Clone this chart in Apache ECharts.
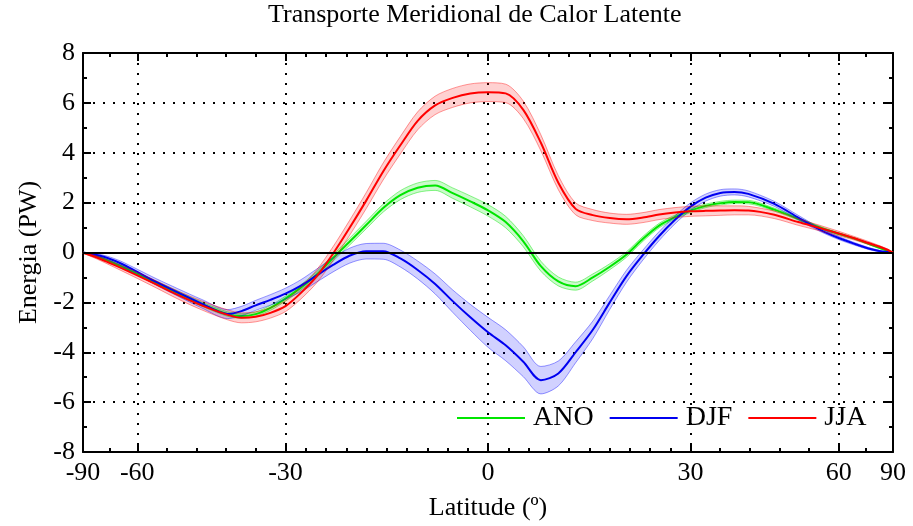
<!DOCTYPE html>
<html>
<head>
<meta charset="utf-8">
<script src="https://cdn.jsdelivr.net/npm/echarts@6/dist/echarts.min.js"></script>
<style>
  html, body { margin: 0; padding: 0; background: #fff; }
  #chart { width: 913px; height: 526px; }
</style>
</head>
<body>
<div id="chart"></div>
<script>
// Latitude grid (degrees) shared by all three transports
const latitudes = [
  -90, -85, -80, -75, -70, -65, -60, -55, -50, -45, -40,
  -37.5, -35, -32.5, -30, -27.5, -25, -22.5, -20, -17.5, -15, -12.5, -10, -7.5, -5, -2.5,
  0, 2.5, 5, 7.5, 10, 12.5, 15, 17.5, 20, 22.5, 25, 27.5, 30, 32.5, 35, 37.5,
  40, 45, 50, 55, 60, 65, 70, 75, 80, 85, 90
];

// Annual mean (PW) and its spread
const ano = [
  0, -0.02, -0.07, -0.16, -0.32, -0.55, -0.86, -1.22, -1.63, -2.07, -2.47,
  -2.55, -2.47, -2.22, -1.85, -1.4, -0.88, -0.22, 0.43, 1.1, 1.78, 2.3, 2.6, 2.69, 2.38, 2.05,
  1.69, 1.22, 0.45, -0.55, -1.16, -1.35, -1.0, -0.57, -0.08, 0.55, 1.08, 1.42, 1.68, 1.87, 1.98, 2.03,
  2.02, 1.72, 1.35, 1.0, 0.75, 0.55, 0.35, 0.19, 0.08, 0.02, 0
];
const anoErr = [
  0, 0.01, 0.02, 0.03, 0.04, 0.05, 0.06, 0.07, 0.08, 0.08, 0.09,
  0.09, 0.09, 0.1, 0.1, 0.11, 0.12, 0.13, 0.14, 0.15, 0.16, 0.18, 0.19, 0.2, 0.21, 0.22,
  0.23, 0.23, 0.22, 0.2, 0.18, 0.16, 0.14, 0.12, 0.11, 0.1, 0.09, 0.08, 0.08, 0.07, 0.07, 0.07,
  0.07, 0.06, 0.05, 0.05, 0.04, 0.03, 0.03, 0.02, 0.01, 0.01, 0
];

// December-January-February (PW) and its spread
const djf = [
  0, -0.01, -0.04, -0.1, -0.22, -0.44, -0.78, -1.18, -1.6, -2.05, -2.47,
  -2.35, -2.12, -1.9, -1.65, -1.33, -0.92, -0.5, -0.13, 0.05, 0.05, -0.24, -0.7, -1.26, -1.95, -2.6,
  -3.2, -3.72, -4.38, -5.12, -4.85, -4.0, -3.1, -2.0, -0.95, -0.1, 0.66, 1.31, 1.84, 2.2, 2.39, 2.43,
  2.35, 1.95, 1.4, 0.92, 0.58, 0.34, 0.16, 0.06, 0.02, 0.005, 0
];
const djfErr = [
  0, 0.01, 0.03, 0.05, 0.07, 0.09, 0.11, 0.13, 0.15, 0.17, 0.18,
  0.19, 0.2, 0.21, 0.22, 0.24, 0.26, 0.28, 0.3, 0.31, 0.32, 0.34, 0.36, 0.4, 0.45, 0.52,
  0.6, 0.62, 0.6, 0.55, 0.5, 0.42, 0.35, 0.28, 0.24, 0.2, 0.18, 0.16, 0.15, 0.14, 0.13, 0.12,
  0.12, 0.1, 0.09, 0.07, 0.06, 0.05, 0.04, 0.03, 0.02, 0.01, 0
];

// June-July-August (PW) and its spread
const jja = [
  0, -0.03, -0.09, -0.2, -0.38, -0.62, -0.92, -1.28, -1.7, -2.12, -2.5,
  -2.62, -2.58, -2.42, -2.15, -1.62, -0.95, -0.05, 0.98, 2.08, 3.25, 4.3, 5.28, 5.9, 6.2, 6.38,
  6.43, 6.38, 5.72, 4.4, 2.8, 1.75, 1.5, 1.38, 1.33, 1.4, 1.52, 1.6, 1.65, 1.67, 1.68, 1.69,
  1.68, 1.51, 1.22, 0.98, 0.76, 0.56, 0.38, 0.24, 0.12, 0.03, 0
];
const jjaErr = [
  0, 0.02, 0.04, 0.06, 0.08, 0.1, 0.12, 0.14, 0.16, 0.18, 0.2,
  0.2, 0.2, 0.21, 0.22, 0.24, 0.26, 0.28, 0.3, 0.32, 0.34, 0.35, 0.36, 0.37, 0.38, 0.38,
  0.38, 0.37, 0.35, 0.32, 0.28, 0.24, 0.22, 0.2, 0.2, 0.2, 0.2, 0.2, 0.2, 0.2, 0.19, 0.18,
  0.17, 0.15, 0.13, 0.11, 0.09, 0.07, 0.06, 0.04, 0.03, 0.01, 0
];

// Axis ticks
const xTickLats = [-90, -60, -30, 0, 30, 60, 90];
const yMin = -8, yMax = 8, yStep = 2;

const FONT = '"Liberation Serif", "Times New Roman", serif';

// The latitude axis is area-weighted: positions follow sin(latitude)
const toSin = lat => Math.sin(lat * Math.PI / 180);
const majorX = xTickLats.map(toSin);
const minorDivs = [2, 5, 10, 10, 5, 2];
const minorX = [];
for (let i = 0; i < majorX.length - 1; i++) {
  const step = (majorX[i + 1] - majorX[i]) / minorDivs[i];
  for (let k = 1; k < minorDivs[i]; k++) minorX.push(majorX[i] + k * step);
}
const latLabel = v => {
  const i = majorX.findIndex(s => Math.abs(s - v) < 1e-9);
  return i >= 0 ? String(xTickLats[i]) : '';
};

const black = '#000';
const boxLine = { show: true, onZero: false, lineStyle: { color: black, width: 2 } };
const dotted = { show: true, lineStyle: { color: black, width: 2, type: [2, 8] } };
const majorTick = (vals) => ({ show: true, inside: true, length: 8, customValues: vals, lineStyle: { color: black, width: 2 } });
const minorTickAxis = (pos) => ({
  type: 'value', min: -1, max: 1, position: pos,
  axisLine: { show: false, onZero: false },
  axisTick: { show: true, inside: true, length: 4, customValues: minorX, lineStyle: { color: black, width: 2 } },
  axisLabel: { show: false }, splitLine: { show: false }
});

// Rows are [value, sin(lat)] so the value column is the one that stacks
const rows = vals => latitudes.map((la, i) => [vals[i], toSin(la)]);
const enc = { x: 1, y: 0 };

function bandSeries(key, vals, errs, fill, edge, withZeroLine) {
  const lower = rows(vals.map((v, i) => v - errs[i]));
  const width = rows(errs.map(e => 2 * e));
  const low = {
    type: 'line', name: key + '-lo', stack: key, stackStrategy: 'all', data: lower, encode: enc,
    symbol: 'none', smooth: 0.3, silent: true,
    lineStyle: { color: edge, width: 1 }
  };
  if (withZeroLine) {
    low.markLine = {
      silent: true, symbol: 'none', label: { show: false },
      lineStyle: { color: black, width: 2, type: 'solid' },
      data: [{ yAxis: 0 }]
    };
  }
  return [low, {
    type: 'line', name: key + '-hi', stack: key, stackStrategy: 'all', data: width, encode: enc,
    symbol: 'none', smooth: 0.3, silent: true,
    lineStyle: { color: edge, width: 1 },
    areaStyle: { color: fill, opacity: 1 }
  }];
}

function mainSeries(name, vals, color) {
  return {
    type: 'line', name: name, data: rows(vals), encode: enc, symbol: 'none', smooth: 0.3,
    lineStyle: { color: color, width: 2 }, itemStyle: { color: color }
  };
}

const cGreen = '#00e600', cBlue = '#0000f0', cRed = '#ff0000';

const chart = echarts.init(document.getElementById('chart'), null, { renderer: 'canvas' });
chart.setOption({
  animation: false,
  backgroundColor: '#fff',
  textStyle: { fontFamily: FONT, color: black },
  title: {
    text: 'Transporte Meridional de Calor Latente',
    left: 268, top: 2, padding: 0,
    textStyle: { fontFamily: FONT, fontSize: 26, fontWeight: 'normal', color: black }
  },
  legend: {
    data: ['ANO', 'DJF', 'JJA'],
    icon: 'rect',
    left: 457, top: 404, padding: 0, itemWidth: 68, itemHeight: 2, itemGap: 16,
    textStyle: { fontFamily: FONT, fontSize: 28, color: black, padding: [0, 0, 0, 3] }
  },
  grid: { left: 83, right: 20, top: 53, bottom: 74, containLabel: false },
  xAxis: [
    {
      type: 'value', min: -1, max: 1, position: 'bottom',
      axisLine: boxLine, axisTick: majorTick(majorX),
      axisLabel: { customValues: majorX, formatter: latLabel, color: black, fontFamily: FONT, fontSize: 26, margin: 8 },
      splitLine: dotted,
      name: 'Latitude (º)', nameLocation: 'middle', nameGap: 43,
      nameTextStyle: { fontFamily: FONT, fontSize: 26, color: black }
    },
    minorTickAxis('bottom'),
    {
      type: 'value', min: -1, max: 1, position: 'top',
      axisLine: boxLine, axisTick: majorTick(majorX),
      axisLabel: { show: false }, splitLine: { show: false }
    },
    minorTickAxis('top')
  ],
  yAxis: [
    {
      type: 'value', min: yMin, max: yMax, interval: yStep, position: 'left',
      axisLine: boxLine,
      axisTick: { show: true, inside: true, length: 8, lineStyle: { color: black, width: 2 } },
      minorTick: { show: true, splitNumber: 2, length: 4, lineStyle: { color: black, width: 2 } },
      axisLabel: { color: black, fontFamily: FONT, fontSize: 26, margin: 8 },
      splitLine: dotted,
      name: 'Energia (PW)', nameLocation: 'middle', nameGap: 41, nameRotate: 90,
      nameTextStyle: { fontFamily: FONT, fontSize: 26, color: black }
    },
    {
      type: 'value', min: yMin, max: yMax, interval: yStep, position: 'right',
      axisLine: boxLine,
      axisTick: { show: true, inside: true, length: 8, lineStyle: { color: black, width: 2 } },
      minorTick: { show: true, splitNumber: 2, length: 4, lineStyle: { color: black, width: 2 } },
      axisLabel: { show: false }, splitLine: { show: false }
    }
  ],
  series: [
    ...bandSeries('ano', ano, anoErr, 'rgba(0,230,0,0.2)', 'rgba(0,230,0,0.45)', true),
    mainSeries('ANO', ano, cGreen),
    ...bandSeries('djf', djf, djfErr, 'rgba(0,0,255,0.18)', 'rgba(0,0,255,0.4)', false),
    mainSeries('DJF', djf, cBlue),
    ...bandSeries('jja', jja, jjaErr, 'rgba(255,0,0,0.18)', 'rgba(255,0,0,0.4)', false),
    mainSeries('JJA', jja, cRed)
  ]
});
</script>
</body>
</html>
